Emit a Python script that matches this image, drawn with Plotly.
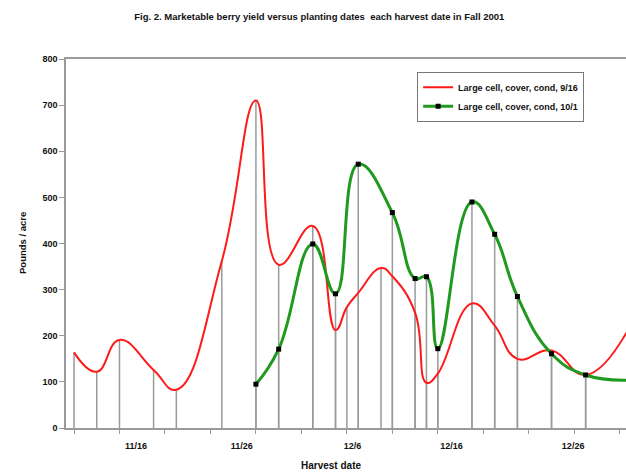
import plotly.graph_objects as go
import pandas as pd

title_text = "Fig. 2. Marketable berry yield versus planting dates  each harvest date in Fall 2001"
red_name = "Large cell, cover, cond, 9/16"
green_name = "Large cell, cover, cond, 10/1"

red_dates = ["2001-11-12", "2001-11-14", "2001-11-16", "2001-11-19", "2001-11-21",
             "2001-11-25", "2001-11-28", "2001-11-30", "2001-12-03", "2001-12-05",
             "2001-12-06", "2001-12-07", "2001-12-09", "2001-12-10", "2001-12-12",
             "2001-12-13", "2001-12-14", "2001-12-17", "2001-12-19", "2001-12-21",
             "2001-12-24", "2001-12-27", "2001-12-31"]
red_values = [164, 122, 191, 126, 83, 362, 710, 354, 438, 212, 262, 293, 347, 329, 250,
              98, 118, 270, 222, 150, 168, 115, 225]

green_dates = ["2001-11-28", "2001-11-30", "2001-12-03", "2001-12-05", "2001-12-07",
               "2001-12-10", "2001-12-12", "2001-12-13", "2001-12-14", "2001-12-17",
               "2001-12-19", "2001-12-21", "2001-12-24", "2001-12-27", "2001-12-31"]
green_values = [95, 171, 399, 291, 572, 467, 324, 328, 172, 490, 420, 285, 161, 115, 104]

x_tick_labels = ["11/16", "11/26", "12/6", "12/16", "12/26"]
x_tick_positions = ["2001-11-17 10:48", "2001-11-26 18:00", "2001-12-06 12:00",
                    "2001-12-15 04:48", "2001-12-25 21:36"]
x_minor_ticks = list(pd.date_range("2001-11-12", "2001-12-30", freq="4D"))
y_ticks = [0, 100, 200, 300, 400, 500, 600, 700, 800]

GRAY = "#9a9a9a"
FONT = "Liberation Sans, Arial, sans-serif"

fig = go.Figure()

# drop lines (vertical lines from each point down to the axis)
for dates, vals in ((red_dates, red_values), (green_dates, green_values)):
    fig.add_trace(go.Scatter(
        x=dates, y=vals, mode="markers",
        marker=dict(size=1, color="rgba(0,0,0,0)"),
        error_y=dict(type="data", symmetric=False, array=[0] * len(vals),
                     arrayminus=vals, width=0, thickness=1.5, color=GRAY),
        showlegend=False, hoverinfo="skip"))

fig.add_trace(go.Scatter(
    x=red_dates, y=red_values, mode="lines", name="<b>" + red_name + "</b>",
    line=dict(color="#ff1a1a", width=2, shape="spline", smoothing=1.3)))

fig.add_trace(go.Scatter(
    x=green_dates, y=green_values, mode="lines+markers", name="<b>" + green_name + "</b>",
    line=dict(color="#1f9a1f", width=3, shape="spline", smoothing=1.3),
    marker=dict(symbol="square", size=5, color="black")))

fig.update_layout(
    width=626, height=474,
    margin=dict(l=66, r=0, t=59, b=46),
    paper_bgcolor="white", plot_bgcolor="white",
    font=dict(family=FONT, size=9, color="black"),
    title=dict(text="<b>" + title_text + "</b>", x=0.51, xref="container",
               y=1 - 17 / 474, yref="container", xanchor="center", yanchor="middle",
               font=dict(size=9.5, family=FONT, color="#111")),
    showlegend=True,
    legend=dict(x=0.627, y=0.9655, xanchor="left", yanchor="top",
                bgcolor="white", bordercolor="#777", borderwidth=1,
                font=dict(size=9, family=FONT, color="#111"),
                itemwidth=30, tracegroupgap=0),
    xaxis=dict(
        type="date",
        range=["2001-11-11 07:06", "2001-12-30 13:12"],
        showgrid=False, zeroline=False,
        showline=True, linecolor=GRAY, linewidth=1.5, mirror=True,
        tickmode="array", tickvals=x_tick_positions,
        ticktext=["<b>" + t + "</b>" for t in x_tick_labels],
        ticks="outside", ticklen=8, tickcolor="rgba(0,0,0,0)",
        tickfont=dict(size=9, family=FONT, color="#111"),
        minor=dict(tickmode="array", tickvals=x_minor_ticks, ticks="outside",
                   ticklen=4, tickcolor=GRAY, tickwidth=1, showgrid=False),
    ),
    yaxis=dict(
        range=[0, 800],
        showgrid=False, zeroline=False,
        showline=True, linecolor=GRAY, linewidth=1.5, mirror=False,
        tickmode="array", tickvals=y_ticks,
        ticktext=["<b>%d</b>" % v for v in y_ticks],
        ticks="outside", ticklen=5, tickcolor=GRAY, tickwidth=1,
        tickfont=dict(size=9, family=FONT, color="#111"),
    ),
    annotations=[
        dict(text="<b>Harvest date</b>", xref="paper", yref="paper",
             x=(331 - 66) / 560, y=(428 - 466) / 369, xanchor="center", yanchor="middle",
             showarrow=False, font=dict(size=10, family=FONT, color="#111")),
        dict(text="<b>Pounds / acre</b>", xref="paper", yref="paper",
             x=(22 - 66) / 560, y=(428 - 243) / 369, xanchor="center", yanchor="middle",
             textangle=-90, showarrow=False, font=dict(size=9.5, family=FONT, color="#111")),
    ],
)

fig.write_html("out.html", config={"displayModeBar": False},
               post_script="document.body.style.margin='0';document.body.style.padding='0';")
